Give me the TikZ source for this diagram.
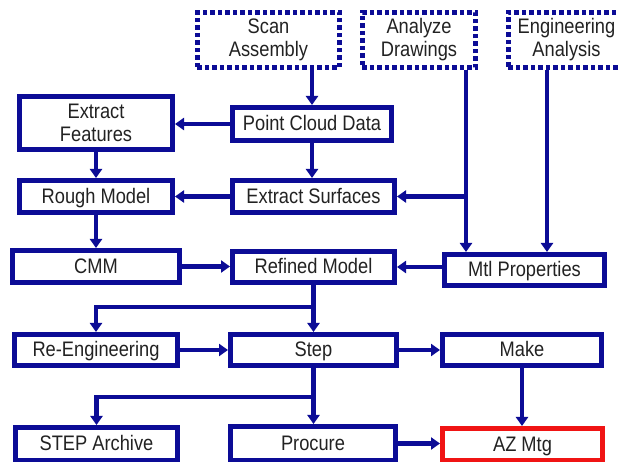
\documentclass[tikz,border=0pt]{standalone}
\usepackage{fontspec}
\setmainfont{Liberation Sans}[FakeStretch=0.87]
\usetikzlibrary{arrows.meta}
\definecolor{navy}{RGB}{12,12,150}
\definecolor{txt}{RGB}{34,34,34}
\definecolor{redb}{RGB}{240,20,20}
\tikzset{
  box/.style={draw=navy, line width=4.8pt, inner sep=0pt, align=center, text=txt,
    font=\fontsize{21}{23}\selectfont},
  one/.style={box, text height=15pt, text depth=1.5pt},
  dotbox/.style={box, dash pattern=on 4.5pt off 3pt},
  arr/.style={draw=navy, line width=4.3pt, -{Triangle[length=9pt,width=12pt]}}
}
\begin{document}
\begin{tikzpicture}[x=1pt,y=-1pt]
\clip (0,0) rectangle (619,462);
\fill[white] (0,0) rectangle (619,462);
% top dotted boxes
\node[dotbox, minimum width=142.2pt, minimum height=55.2pt] (scan) at (268.5,40) {Scan\\Assembly};
\node[dotbox, minimum width=113.2pt, minimum height=55.2pt] (analyze) at (419,40) {Analyze\\Drawings};
\node[dotbox, minimum width=116.2pt, minimum height=55.2pt] (eng) at (566.5,40) {Engineering\\Analysis};
% solid boxes
\node[box, minimum width=153.2pt, minimum height=53.2pt] (feat) at (96,123) {Extract\\Features};
\node[one, minimum width=159.2pt, minimum height=33.2pt] (pcd) at (312,124) {Point Cloud Data};
\node[one, minimum width=153.2pt, minimum height=32.2pt] (rough) at (96,196.5) {Rough Model};
\node[one, minimum width=162.2pt, minimum height=32.2pt] (surf) at (313.5,196.5) {Extract Surfaces};
\node[one, minimum width=167.2pt, minimum height=32.2pt] (cmm) at (96,266.5) {CMM};
\node[one, minimum width=162.2pt, minimum height=31.2pt] (refined) at (313.5,267) {Refined Model};
\node[one, minimum width=160.2pt, minimum height=31.2pt] (mtl) at (524.5,270) {Mtl Properties};
\node[one, minimum width=163.2pt, minimum height=31.2pt] (reeng) at (96,350) {Re-Engineering};
\node[one, minimum width=166.2pt, minimum height=31.2pt] (step) at (313.5,350) {Step};
\node[one, minimum width=159.2pt, minimum height=31.2pt] (make) at (522,350) {Make};
\node[one, minimum width=162.2pt, minimum height=33.2pt] (archive) at (96.5,444) {STEP Archive};
\node[one, minimum width=165.2pt, minimum height=34.2pt] (procure) at (313,443.5) {Procure};
\node[one, draw=redb, minimum width=160.2pt, minimum height=32.2pt] (azmtg) at (522.5,444.5) {AZ Mtg};
% helper coordinates
\coordinate (ad) at (466,0);
\coordinate (ed) at (547,0);
\coordinate (b1) at (313,307);
\coordinate (b2) at (313,397);
% connectors
\draw[arr] (pcd.north |- scan.south) -- (pcd.north);
\draw[arr] (pcd.west) -- (pcd.west -| feat.east);
\draw[arr] (pcd.south) -- (pcd.south |- surf.north);
\draw[arr] (feat.south) -- (feat.south |- rough.north);
\draw[arr] (surf.west) -- (surf.west -| rough.east);
\draw[arr] (ad |- analyze.south) -- (ad |- mtl.north);
\draw[arr] (ad |- surf.east) -- (surf.east);
\draw[arr] (ed |- eng.south) -- (ed |- mtl.north);
\draw[arr] (rough.south) -- (rough.south |- cmm.north);
\draw[arr] (cmm.east) -- (cmm.east -| refined.west);
\draw[arr] (mtl.west |- refined.east) -- (refined.east);
\draw[arr] (refined.south) -- (refined.south |- step.north);
\draw[arr] (refined.south |- b1) -| (reeng.north);
\draw[arr] (reeng.east) -- (reeng.east -| step.west);
\draw[arr] (step.east) -- (step.east -| make.west);
\draw[arr] (step.south) -- (step.south |- procure.north);
\draw[arr] (step.south |- b2) -| (archive.north);
\draw[arr] (make.south) -- (make.south |- azmtg.north);
\draw[arr] (procure.east) -- (procure.east -| azmtg.west);
\end{tikzpicture}
\end{document}
